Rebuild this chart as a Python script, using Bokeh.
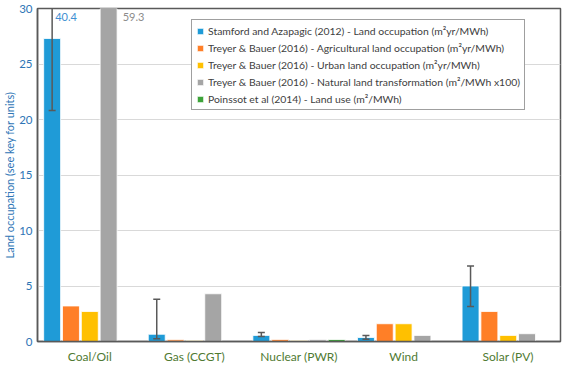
import math
from bokeh.plotting import figure
from bokeh.models import Range1d, FactorRange, ColumnDataSource, Legend, LegendItem
from bokeh.transform import dodge
from bokeh.embed import file_html
from bokeh.resources import INLINE
from bokeh.core.properties import value

nan = float("nan")

categories = ["Coal/Oil", "Gas (CCGT)", "Nuclear (PWR)", "Wind", "Solar (PV)"]
stamford = [27.3, 0.65, 0.55, 0.36, 5.0]
stamford_low = [20.8, 0.25, 0.45, 0.2, 3.15]
stamford_high = [40.4, 3.8, 0.8, 0.55, 6.8]
treyer_agri = [3.2, 0.15, 0.17, 1.6, 2.7]
treyer_urban = [2.7, 0.08, 0.1, 1.6, 0.55]
treyer_natural = [59.3, 4.3, 0.15, 0.55, 0.7]
poinssot = [nan, nan, 0.18, nan, nan]

series_names = [
    "Stamford and Azapagic (2012) - Land occupation (m²yr/MWh)",
    "Treyer & Bauer (2016) - Agricultural land occupation (m²yr/MWh)",
    "Treyer & Bauer (2016) - Urban land occupation (m²yr/MWh)",
    "Treyer & Bauer (2016) - Natural land transformation (m²/MWh x100)",
    "Poinssot et al (2014) - Land use (m²/MWh)",
]
colors = ["#1F9BD7", "#FF7F27", "#FFC000", "#A5A5A5", "#3DA33A"]
offsets = [-0.36, -0.18, 0.0, 0.18, 0.36]

y_max = 30
FONT = "Lato"

p = figure(
    x_range=FactorRange(*categories),
    y_range=Range1d(0, y_max),
    width=565, height=366,
    output_backend="svg", toolbar_location=None,
    min_border_top=8, min_border_right=5, min_border_left=0, min_border_bottom=25,
)

src = ColumnDataSource(dict(
    cat=categories, s0=stamford, s1=treyer_agri, s2=treyer_urban, s3=treyer_natural, s4=poinssot,
    lo=stamford_low, hi=stamford_high,
))

renderers = []
for i, (name, col) in enumerate(zip(series_names, colors)):
    r = p.vbar(x=dodge("cat", offsets[i], range=p.x_range), top=f"s{i}", width=0.162,
               source=src, fill_color=col, line_color="white", line_width=1, line_alpha=0.8)
    renderers.append(r)

# error bars on first series
err_col = "#595959"
xb = dodge("cat", offsets[0], range=p.x_range)
p.segment(x0=xb, x1=xb, y0="lo", y1="hi", source=src, line_color=err_col, line_width=1.5)
p.scatter(x=xb, y="lo", source=src, marker="dash", size=7, line_color=err_col, line_width=1.5)
p.scatter(x=xb, y="hi", source=src, marker="dash", size=7, line_color=err_col, line_width=1.5)

# value labels for values exceeding the axis
lab_blue = ColumnDataSource(dict(x=[categories[0]], y=[y_max], t=[f"{stamford_high[0]:.1f}"]))
lab_gray = ColumnDataSource(dict(x=[categories[0]], y=[y_max], t=[f"{treyer_natural[0]:.1f}"]))
p.text(x=dodge("x", offsets[0], range=p.x_range), y="y", text="t", source=lab_blue,
       text_color="#3F8FD2", text_font=value(FONT), text_font_size="11px",
       text_baseline="top", text_align="left", x_offset=3, y_offset=4)
p.text(x=dodge("x", offsets[3], range=p.x_range), y="y", text="t", source=lab_gray,
       text_color="#8C8C8C", text_font=value(FONT), text_font_size="11px",
       text_baseline="top", text_align="left", x_offset=14, y_offset=4)

# axes
p.xgrid.grid_line_color = None
p.ygrid.grid_line_color = "#D9D9D9"
p.ygrid.grid_line_width = 1
p.yaxis.ticker = [0, 5, 10, 15, 20, 25, 30]
p.yaxis.axis_label = "Land occupation (see key for units)"
p.yaxis.axis_label_text_font = FONT
p.yaxis.axis_label_text_font_style = "normal"
p.yaxis.axis_label_text_font_size = "11px"
p.yaxis.axis_label_text_color = "#2E75B6"
p.yaxis.axis_label_standoff = 0
p.yaxis.major_label_text_font = FONT
p.yaxis.major_label_text_font_size = "11.5px"
p.yaxis.major_label_text_color = "#2E75B6"
p.yaxis.major_label_standoff = 5
p.xaxis.major_label_text_font = FONT
p.xaxis.major_label_text_font_size = "12px"
p.xaxis.major_label_text_color = "#4F7A32"
p.xaxis.major_label_standoff = 7
for ax in (p.xaxis, p.yaxis):
    ax.major_tick_line_color = None
    ax.minor_tick_line_color = None
    ax.major_tick_out = 0
    ax.major_tick_in = 0
    ax.minor_tick_out = 0
    ax.minor_tick_in = 0
    ax.axis_line_color = "#595959"
    ax.axis_line_width = 1.5
p.outline_line_color = "#595959"
p.outline_line_width = 1.5
p.outline_line_alpha = 1

legend = Legend(
    items=[LegendItem(label=n, renderers=[r]) for n, r in zip(series_names, renderers)],
    location=(154, 231),
    label_text_font=FONT, label_text_font_size="10.4px", label_text_color="#404040",
    glyph_width=8, glyph_height=8, label_height=13, label_standoff=4,
    spacing=4, padding=4, margin=0,
    border_line_color="#404040", border_line_width=1.2,
    background_fill_color="white", background_fill_alpha=1,
)
p.add_layout(legend, "center")

open("out.html", "w").write(file_html(p, INLINE))
